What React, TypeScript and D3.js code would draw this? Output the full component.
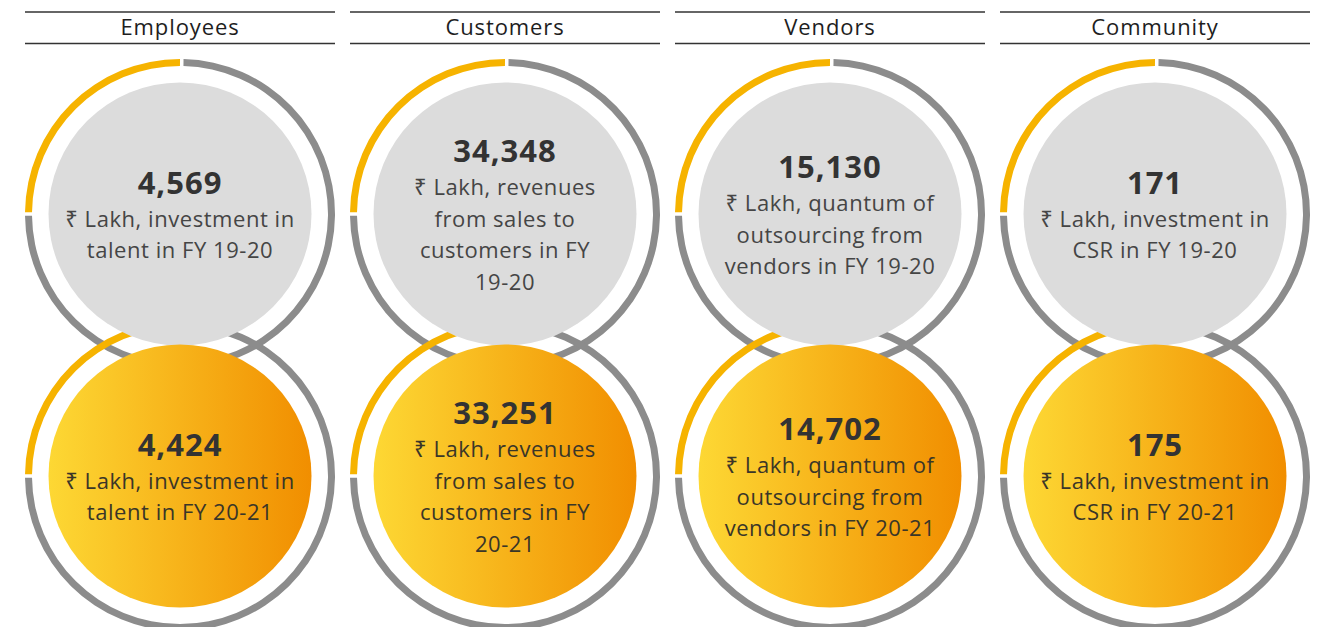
import React from 'react';
import * as d3 from 'd3';

const categories = ['Employees', 'Customers', 'Vendors', 'Community'];
const years = ['FY 19-20', 'FY 20-21'];
const values1920 = [4569, 34348, 15130, 171];
const values2021 = [4424, 33251, 14702, 175];

// description lines per category, the year is appended where {fy} stands
const descLines = [
  ['₹ Lakh, investment in', 'talent in {fy}'],
  ['₹ Lakh, revenues', 'from sales to', 'customers in FY', '{yy}'],
  ['₹ Lakh, quantum of', 'outsourcing from', 'vendors in {fy}'],
  ['₹ Lakh, investment in', 'CSR in {fy}'],
];

// ring split: highlighted share vs rest
const ringShares = [1, 3];

const W = 1323;
const H = 627;
const FONT = '"Open Sans", "Noto Sans", "DejaVu Sans", sans-serif';

const App: React.FC = () => {
  const x = d3.scaleBand<string>()
    .domain(categories)
    .range([25, 1310])
    .paddingInner(15 / 325)
    .paddingOuter(0);

  const y = d3.scalePoint<string>().domain(years).range([214, 476]);

  const pie = d3.pie<number>()
    .sort(null)
    .startAngle(-Math.PI / 2)
    .endAngle(Math.PI * 1.5)
    .padAngle(3.5 / 151.5);

  const arc = d3.arc<d3.PieArcDatum<number>>()
    .innerRadius(148)
    .outerRadius(155)
    .padRadius(151.5);

  const slices = pie(ringShares);
  const ringColors = ['#f6b300', '#8c8c8c'];
  const fmt = d3.format(',');

  const fillR = 131.5;

  const textBlock = (ci: number, yi: number, cx: number, cy: number) => {
    const fy = years[yi];
    const lines = descLines[ci].map(l => l.replace('{fy}', fy).replace('{yy}', fy.replace('FY ', '')));
    const val = yi === 0 ? values1920[ci] : values2021[ci];
    const n = lines.length;
    const base = cy - (11 + 31.5 * (n - 1)) / 2 + 1;
    return (
      <g key={`t-${ci}-${yi}`} textAnchor="middle" fontFamily={FONT}>
        <text x={cx} y={base} fontSize={31} fontWeight={700} letterSpacing={1} fill="#333333">{fmt(val)}</text>
        {lines.map((l, i) => (
          <text key={i} x={cx} y={base + 33 + 31.5 * i} fontSize={22} letterSpacing={0.55} fill={yi === 0 ? '#454545' : '#3a3628'}>{l}</text>
        ))}
      </g>
    );
  };

  return (
    <svg width={W} height={H} style={{ position: 'absolute', left: 0, top: 0, background: '#fff' }}>
      <defs>
        <linearGradient id="gold" x1="0" x2="1" y1="0" y2="0">
          <stop offset="0%" stopColor="#fdd834" />
          <stop offset="100%" stopColor="#f18e00" />
        </linearGradient>
      </defs>
      {categories.map((c, ci) => {
        const x0 = x(c)!;
        const cx = x0 + x.bandwidth() / 2;
        return (
          <g key={c}>
            <line x1={x0} x2={x0 + x.bandwidth()} y1={12} y2={12} stroke="#333" strokeWidth={1.3} />
            <line x1={x0} x2={x0 + x.bandwidth()} y1={43.5} y2={43.5} stroke="#333" strokeWidth={1.3} />
            <text x={cx} y={35} textAnchor="middle" fontFamily={FONT} fontSize={22} letterSpacing={0.9} fill="#1e1e1e">{c}</text>
            {years.map(yr => (
              <g key={yr} transform={`translate(${cx},${y(yr)})`}>
                {slices.map((s, si) => (
                  <path key={si} d={arc(s)!} fill={ringColors[si]} />
                ))}
              </g>
            ))}
            {years.map((yr, yi) => (
              <circle key={yr} cx={cx} cy={y(yr)} r={fillR} fill={yi === 0 ? '#dcdcdc' : 'url(#gold)'} />
            ))}
            {years.map((yr, yi) => textBlock(ci, yi, cx, y(yr)!))}
          </g>
        );
      })}
    </svg>
  );
};

export default App;
